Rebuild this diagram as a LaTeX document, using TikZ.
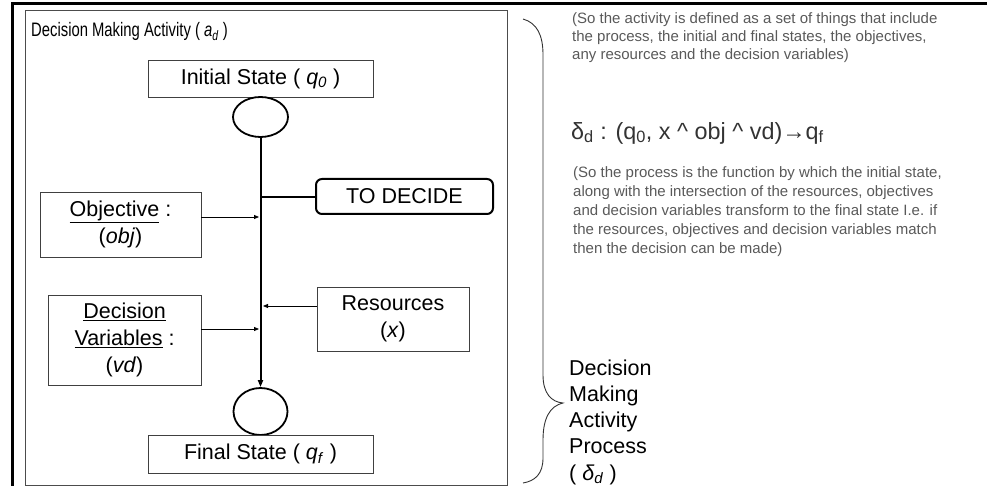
\documentclass[tikz,border=0pt]{standalone}
\usepackage{fontspec}
\usepackage{graphicx}
\setmainfont{Liberation Sans}
\usetikzlibrary{arrows.meta,shapes.geometric}
\begin{document}
\begin{tikzpicture}[x=1pt,y=-1pt,
  box/.style={draw=black!75, line width=0.9pt, inner sep=0pt, align=center, font=\fontsize{21.5}{27}\selectfont},
  state/.style={draw=black, line width=1.8pt, shape=ellipse, inner sep=0pt},
  feed/.style={draw=black, line width=0.8pt, -{Triangle[length=5pt,width=4pt]}},
  note/.style={text=black!65, align=left, anchor=north west, inner sep=0pt},
]
\useasboundingbox (0,0) rectangle (987,486);
% outer frame (top and left)
\draw[line width=3pt] (987,3.5) -- (12,3.5) -- (12,486);
% inner activity box
\node[draw=black!70, line width=1pt, minimum width=482pt, minimum height=474pt, inner sep=0pt] (act) at (266,248) {};
\node[anchor=base west, inner sep=0pt] (title) at (31,37) {\scalebox{0.76}[1]{\fontsize{19.5}{23}\selectfont Decision Making Activity ( \textit{a}\textsubscript{\textit{d}} )}};
% states
\node[box, minimum width=225pt, minimum height=37pt] (init) at (260.5,78.5) {Initial State ( \textit{q}\textsubscript{\textit{0}} )};
\node[state, minimum width=55pt, minimum height=40pt] (s0) at (260.5,117) {};
\node[state, minimum width=54pt, minimum height=47pt] (sf) at (260.5,411.5) {};
\node[box, minimum width=225pt, minimum height=38pt] (final) at (260.5,454) {Final State ( \textit{q}\textsubscript{\textit{f}} )};
% inputs
\node[box, minimum width=161pt, minimum height=65pt] (obj) at (120.5,224.5) {\underline{Objective} :\\(\textit{obj})};
\node[box, minimum width=153pt, minimum height=90pt] (dv) at (124.5,340) {\underline{Decision}\\\underline{Variables} :\\(\textit{vd})};
\node[box, minimum width=152pt, minimum height=64pt] (res) at (393,319) {Resources\\(\textit{x})\rule[-4pt]{0pt}{4pt}};
\node[draw=black, line width=2pt, rounded corners=6pt, minimum width=177pt, minimum height=35pt, inner sep=0pt, font=\fontsize{21.5}{27}\selectfont] (dec) at (404.5,196.5) {TO DECIDE};
% junctions on the process line
\coordinate (jdec) at (261,197);
\coordinate (jobj) at (259,217);
\coordinate (jres) at (263,306);
\coordinate (jdv) at (259,329);
% process line
\draw[line width=2pt, -{Triangle[length=7pt,width=5pt]}] (s0.south) -- (sf.north);
\draw[line width=2pt] (jdec) -- (jdec -| dec.west);
\draw[feed] (obj.east |- jobj) -- (jobj);
\draw[feed] (dv.east |- jdv) -- (jdv);
\draw[feed] (res.west |- jres) -- (jres);
% brace
\draw[line width=0.9pt, black!80] (523,19) .. controls (537,23) and (543,35) .. (543,55) -- (543,375) .. controls (543,393) and (551,402) .. (563,403) .. controls (550,406) and (543,418) .. (543,440) -- (543,458) .. controls (543,474) and (535,481) .. (523,483);
% notes
\node[note, font=\fontsize{15}{18.3}\selectfont] (n1) at (572,12) {(So the activity is defined as a set of things that include\\the process, the initial and final states, the objectives,\\any resources and the decision variables)};
\node[anchor=west, inner sep=0pt, text=black!80, font=\fontsize{23.4}{27}\selectfont] (fn) at (571,133) {δ\textsubscript{d} : (q\textsubscript{0}, x \^{} obj \^{} vd)→q\textsubscript{f}};
\node[note, font=\fontsize{15}{19.2}\selectfont] (n2) at (573,166) {(So the process is the function by which the initial state,\\along with the intersection of the resources, objectives\\and decision variables transform to the final state I.e. if\\the resources, objectives and decision variables match\\then the decision can be made)};
\node[anchor=north west, inner sep=0pt, align=left, font=\fontsize{21.5}{26.2}\selectfont] (proc) at (569,359.5) {Decision\\Making\\Activity\\Process\\( \textit{δ}\textsubscript{\textit{d}} )};
\end{tikzpicture}
\end{document}
